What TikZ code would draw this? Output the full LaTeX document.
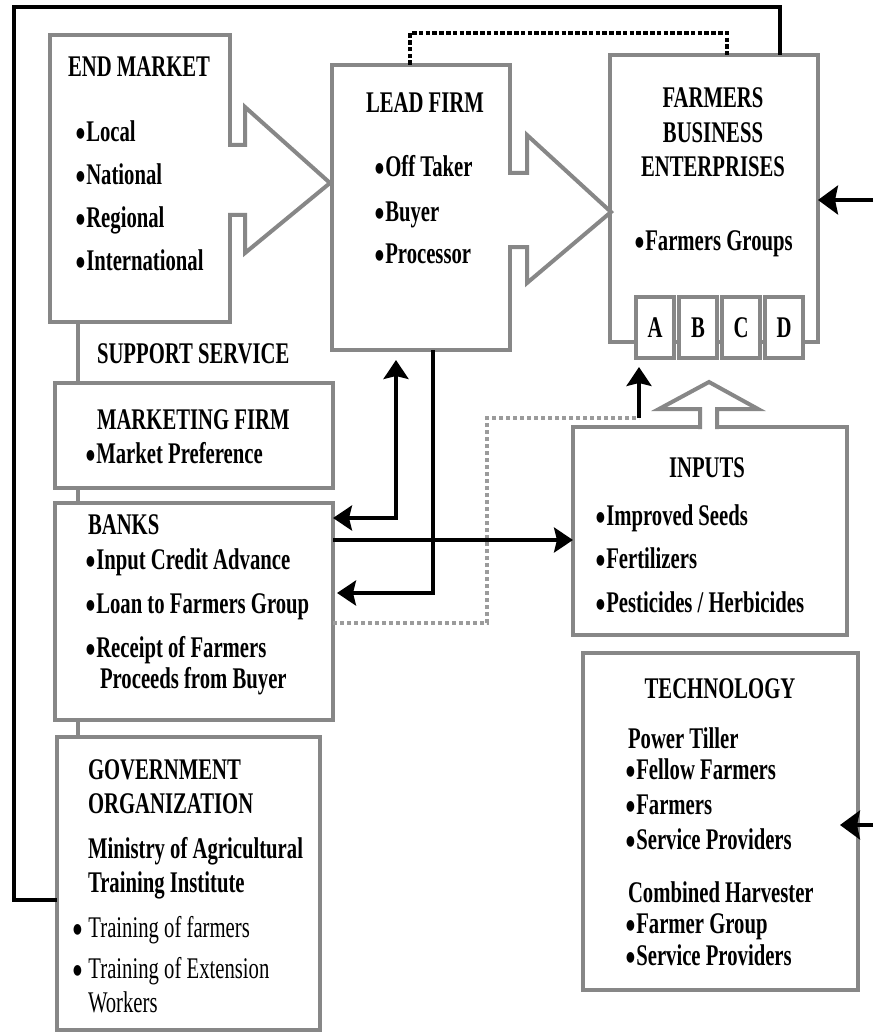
\documentclass[tikz,border=0pt]{standalone}
\usepackage{fontspec}
\setmainfont[FakeStretch=0.69]{Liberation Serif}
\newfontfamily\bulf[FakeStretch=0.72]{DejaVu Sans}
\usetikzlibrary{arrows.meta,backgrounds}
\definecolor{boxgray}{RGB}{135,135,135}
\definecolor{dotgray}{RGB}{155,155,155}
\newcommand\fsz{\fontsize{30}{34}\selectfont}
\newcommand\bul{\raisebox{4pt}{\bulf\fontsize{14}{14}\selectfont ●}\hspace{1.5pt}}
\begin{document}
\begin{tikzpicture}[x=1pt,y=-1pt,
 gbox/.style={draw=boxgray,line width=4pt,fill=white,inner sep=0pt,outer sep=0pt},
 gline/.style={draw=boxgray,line width=4pt,line join=miter},
 bline/.style={draw=black,line width=3.5pt,line join=miter},
 barr/.style={draw=black,line width=3.5pt,line join=miter},
 headE/.style={-{Stealth[length=19pt,width=25pt,inset=3pt]}},
 headB/.style={{Stealth[length=19pt,width=25pt,inset=3pt]}-{Stealth[length=19pt,width=25pt,inset=3pt]}},
 bigE/.style={-{Stealth[length=20pt,width=29pt,inset=3pt]}},
 dotblack/.style={draw=black,line width=4.5pt,dash pattern=on 4.5pt off 2.3pt},
 dotgrayline/.style={draw=dotgray,line width=4.5pt,dash pattern=on 4pt off 3pt},
 tb/.style={font=\fsz\bfseries,inner sep=0pt,outer sep=0pt,anchor=base west,text height=20pt,text depth=5pt},
 tbc/.style={tb,anchor=base},
 tr/.style={font=\fsz,inner sep=0pt,outer sep=0pt,anchor=base west,text height=20pt,text depth=5pt},
]
\useasboundingbox (0,0) rectangle (873,1032);
\begin{scope}[on background layer]
\fill[white] (0,0) rectangle (873,1032);
\end{scope}

% boxes
\node[gbox,minimum width=180pt,minimum height=287pt] (em) at (140,178.5) {};
\node[gbox,minimum width=178pt,minimum height=285pt] (lead) at (421,207.5) {};
\node[gbox,minimum width=208pt,minimum height=287pt] (fbe) at (714,198.5) {};
\node[gbox,minimum width=278pt,minimum height=105pt] (mkt) at (194,435.5) {};
\node[gbox,minimum width=278pt,minimum height=217pt] (banks) at (194,611.5) {};
\node[gbox,minimum width=263pt,minimum height=293pt] (gov) at (188.5,883.5) {};
\node[gbox,minimum width=274pt,minimum height=208pt] (inputs) at (710,531) {};
\node[gbox,minimum width=275pt,minimum height=337pt] (tech) at (720.5,821.5) {};
\node[gbox,font=\fsz\bfseries,minimum width=38pt,minimum height=61pt] (A) at (655,327.5) {A};
\node[gbox,font=\fsz\bfseries,minimum width=38pt,minimum height=61pt] (B) at (698,327.5) {B};
\node[gbox,font=\fsz\bfseries,minimum width=38pt,minimum height=61pt] (C) at (741,327.5) {C};
\node[gbox,font=\fsz\bfseries,minimum width=38pt,minimum height=61pt] (D) at (784,327.5) {D};

% support line behind boxes
\coordinate (s1) at (78,0);
\begin{scope}[on background layer]
\draw[gline] (em.south -| s1) -- (gov.north -| s1);
\end{scope}

% block arrows
\fill[white] (226,145) -- (245,145) -- (245,107) -- (330,183) -- (245,253) -- (245,215) -- (226,215) -- cycle;
\draw[gline] (228,145) -- (245,145) -- (245,107) -- (330,183) -- (245,253) -- (245,215) -- (228,215);
\fill[white] (506,173) -- (527,173) -- (527,135) -- (611,212) -- (527,283) -- (527,247) -- (506,247) -- cycle;
\draw[gline] (508,173) -- (527,173) -- (527,135) -- (611,212) -- (527,283) -- (527,247) -- (508,247);
\fill[white] (700,431) -- (700,409) -- (659,409) -- (709,382) -- (758,409) -- (717,409) -- (717,431) -- cycle;
\draw[gline] (700,429) -- (700,409) -- (659,409) -- (709,382) -- (758,409) -- (717,409) -- (717,429);

% outer black line
\coordinate (o1) at (780,7);
\coordinate (o2) at (14,7);
\coordinate (o3) at (14,900);
\draw[bline] (fbe.north -| o1) -- (o1) -- (o2) -- (o3) -- (gov.west |- o3);

% dotted black line
\coordinate (d1) at (410,33);
\coordinate (d2) at (727,33);
\draw[dotblack] (lead.north -| d1) -- (d1) -- (d2) -- (fbe.north -| d2);

% gray dotted line
\coordinate (k4) at (639,418);
\coordinate (k5) at (487,623);
\draw[dotgrayline] (banks.east |- k5) -- (k5) -- (k5 |- k4) -- (k4);

% black arrows
\coordinate (k1) at (396,518);
\coordinate (k2) at (433,593);
\coordinate (k3) at (0,540);
\draw[barr,headB,shorten >=10pt] (banks.east |- k1) -- (k1) -- (lead.south -| k1);
\draw[barr,headE,shorten >=4pt] (lead.south -| k2) -- (k2) -- (banks.east |- k2);
\draw[barr,headE] (banks.east |- k3) -- (inputs.west |- k3);
\draw[barr,headE,shorten >=9pt] (k4) -- (A.south -| k4);
\coordinate (r1) at (873,200);
\coordinate (r2) at (873,825);
\draw[barr,bigE] (r1) -- (fbe.east |- r1);
\draw[barr,bigE,shorten >=-18pt] (r2) -- (tech.east |- r2);

% texts: end market
\node[tb] (emT) at (68,77) {END MARKET};
\node[tb] (em1) at (76,142) {\bul Local};
\node[tb] (em2) at (76,185) {\bul National};
\node[tb] (em3) at (76,228) {\bul Regional};
\node[tb] (em4) at (76,270) {\bul International};
% lead firm
\node[tbc] (leadT) at (425,113) {LEAD FIRM};
\node[tb] (ld1) at (375,177) {\bul Off Taker};
\node[tb] (ld2) at (375,222) {\bul Buyer};
\node[tb] (ld3) at (375,263) {\bul Processor};
% fbe
\node[tbc] (fbeT1) at (713,108) {FARMERS};
\node[tbc] (fbeT2) at (713,143) {BUSINESS};
\node[tbc] (fbeT3) at (713,177) {ENTERPRISES};
\node[tb] (fb1) at (635,250) {\bul Farmers Groups};
% support
\node[tb] (sup) at (97,363) {SUPPORT SERVICE};
\node[tb] (mktT) at (97,429) {MARKETING FIRM};
\node[tb] (mk1) at (86,463) {\bul Market Preference};
\node[tb] (bkT) at (88,534) {BANKS};
\node[tb] (bk1) at (86,569) {\bul Input Credit Advance};
\node[tb] (bk2) at (86,613) {\bul Loan to Farmers Group};
\node[tb] (bk3) at (86,657) {\bul Receipt of Farmers};
\node[tb] (bk4) at (100,688) {Proceeds from Buyer};
\node[tb] (gvT1) at (88,779) {GOVERNMENT};
\node[tb] (gvT2) at (88,813) {ORGANIZATION};
\node[tb] (gv1) at (88,858) {Ministry of Agricultural};
\node[tb] (gv2) at (88,892) {Training Institute};
\node[tr] (gv3) at (73,937) {\bul\ Training of farmers};
\node[tr] (gv4) at (73,978) {\bul\ Training of Extension};
\node[tr] (gv5) at (88,1012) {Workers};
% inputs
\node[tbc] (inT) at (707,477) {INPUTS};
\node[tb] (in1) at (596,525) {\bul Improved Seeds};
\node[tb] (in2) at (596,568) {\bul Fertilizers};
\node[tb] (in3) at (596,612) {\bul Pesticides / Herbicides};
% technology
\node[tbc] (teT) at (720,698) {TECHNOLOGY};
\node[tb] (te1) at (628,748) {Power Tiller};
\node[tb] (te2) at (626,779) {\bul Fellow Farmers};
\node[tb] (te3) at (626,814) {\bul Farmers};
\node[tb] (te4) at (626,849) {\bul Service Providers};
\node[tb] (te5) at (628,902) {Combined Harvester};
\node[tb] (te6) at (626,933) {\bul Farmer Group};
\node[tb] (te7) at (626,965) {\bul Service Providers};
\end{tikzpicture}
\end{document}
